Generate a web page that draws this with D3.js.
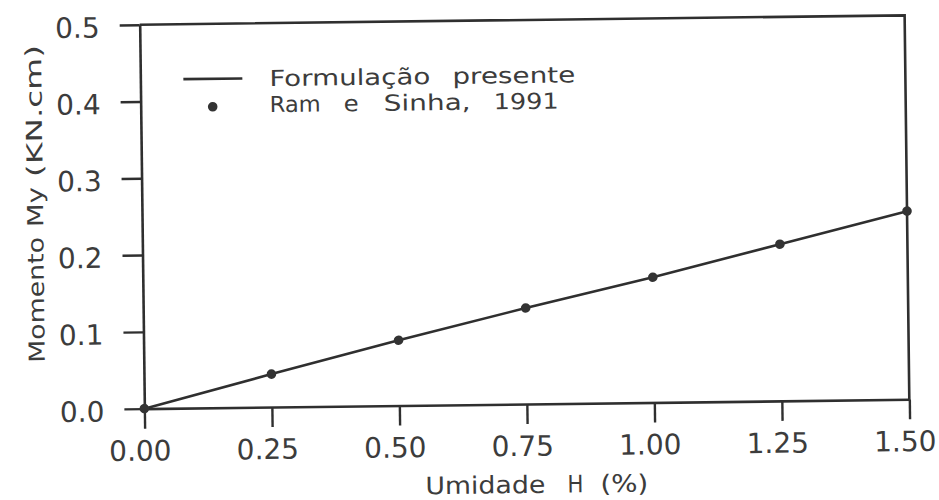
<!DOCTYPE html>
<html>
<head>
<meta charset="utf-8">
<script src="https://cdn.jsdelivr.net/npm/d3@7/dist/d3.min.js"></script>
<style>
  html, body { margin: 0; padding: 0; background: #ffffff; }
  svg { display: block; }
  text { font-family: "DejaVu Sans", sans-serif; fill: #3c3c3c; }
</style>
</head>
<body>
<svg id="chart" width="939" height="500"></svg>
<script>
// Humidity H (%) at which the moment was evaluated
const umidade = [0.00, 0.25, 0.50, 0.75, 1.00, 1.25, 1.50];
// Moment My (KN.cm) from the present formulation (solid line)
const formulacao = [0.000, 0.043, 0.085, 0.125, 0.163, 0.204, 0.245];
// Moment My (KN.cm) reported by Ram e Sinha, 1991 (points)
const ramSinha = [0.000, 0.043, 0.085, 0.125, 0.163, 0.204, 0.245];
// Axis ticks
const xTicks = [0.00, 0.25, 0.50, 0.75, 1.00, 1.25, 1.50];
const yTicks = [0.0, 0.1, 0.2, 0.3, 0.4, 0.5];

const ink = "#2f2f2f";
const plotL = 142, plotR = 907, plotT = 20, plotB = 404;
const tickLen = 20;

const svg = d3.select("#chart");
// whole sheet sits slightly turned
const g = svg.append("g")
  .attr("transform", `rotate(-0.7, ${(plotL + plotR) / 2}, ${(plotT + plotB) / 2})`);

const x = d3.scaleLinear().domain([0, 1.5]).range([plotL, plotR]);
const y = d3.scaleLinear().domain([0, 0.5]).range([plotB, plotT]);

// bottom axis: ticks pointing down, outside the frame
const xAxis = g.append("g")
  .attr("transform", `translate(0,${plotB})`)
  .call(d3.axisBottom(x).tickValues(xTicks).tickFormat(d3.format(".2f"))
    .tickSize(tickLen).tickPadding(12).tickSizeOuter(0));
xAxis.select(".domain").attr("stroke", ink).attr("stroke-width", 2.6);
xAxis.selectAll(".tick line").attr("stroke", ink).attr("stroke-width", 2.4);
xAxis.selectAll(".tick text")
  .attr("font-size", 28).attr("fill", "#444")
  .attr("dx", -5)
  .attr("font-family", "DejaVu Sans, sans-serif");

// left axis: ticks pointing left
const yAxis = g.append("g")
  .attr("transform", `translate(${plotL},0)`)
  .call(d3.axisLeft(y).tickValues(yTicks).tickFormat(d3.format(".1f"))
    .tickSize(tickLen).tickPadding(20).tickSizeOuter(0));
yAxis.select(".domain").attr("stroke", ink).attr("stroke-width", 2.6);
yAxis.selectAll(".tick line").attr("stroke", ink).attr("stroke-width", 2.4);
yAxis.selectAll(".tick text")
  .attr("font-size", 28).attr("fill", "#444")
  .attr("dy", "0.42em")
  .attr("font-family", "DejaVu Sans, sans-serif");

// top and right edges of the frame
g.append("path")
  .attr("d", `M${x(0)},${y(0.5)}H${x(1.5)}V${y(0)}`)
  .attr("fill", "none").attr("stroke", ink).attr("stroke-width", 2.6);

// present formulation
const line = d3.line().x((d, i) => x(umidade[i])).y(d => y(d));
g.append("path")
  .datum(formulacao)
  .attr("d", line)
  .attr("fill", "none").attr("stroke", ink).attr("stroke-width", 2.6);

// Ram e Sinha points
g.selectAll("circle.pt")
  .data(ramSinha)
  .join("circle")
  .attr("class", "pt")
  .attr("cx", (d, i) => x(umidade[i]))
  .attr("cy", d => y(d))
  .attr("r", 4.8)
  .attr("fill", "#333");

// wide lettering: each word is its own text, stretched to its width
function words(parent, list, baseline, size, transform) {
  const wg = parent.append("g");
  if (transform) wg.attr("transform", transform);
  wg.selectAll("text")
    .data(list)
    .join("text")
    .attr("font-size", size)
    .attr("x", d => d[1])
    .attr("y", baseline)
    .attr("textLength", d => d[2])
    .attr("lengthAdjust", "spacingAndGlyphs")
    .text(d => d[0]);
  return wg;
}

// legend
const lg = g.append("g");
lg.append("line")
  .attr("x1", 185).attr("x2", 244).attr("y1", 75).attr("y2", 75)
  .attr("stroke", ink).attr("stroke-width", 2.6);
lg.append("circle").attr("cx", 214).attr("cy", 103).attr("r", 4.8).attr("fill", "#333");
words(lg, [["Formulação", 271, 161], ["presente", 454, 123]], 83, 22);
words(lg, [["Ram", 271, 51], ["e", 345, 15], ["Sinha,", 385, 87], ["1991", 495, 65]], 109, 22);

// axis titles
words(g, [["Umidade", 422, 120], ["H", 564, 16], ["(%)", 597, 48]], 493, 24);
words(g, [["Momento", -357, 126], ["My", -221, 40], ["(KN.cm)", -171, 132]], 0, 22,
  "translate(43,0) rotate(-90)");
</script>
</body>
</html>
